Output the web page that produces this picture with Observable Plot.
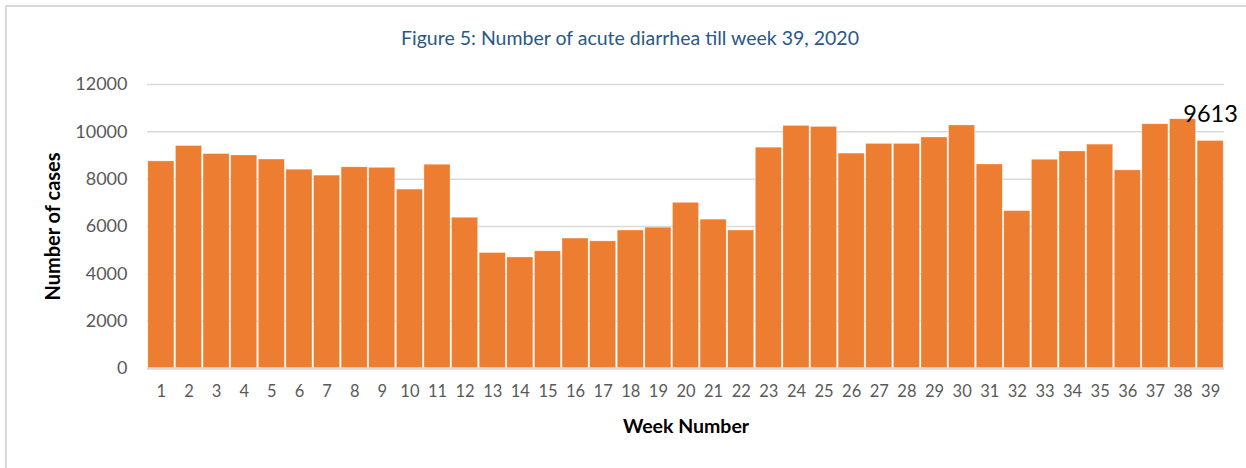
<!DOCTYPE html>
<html>
<head>
<meta charset="utf-8">
<script src="https://cdn.jsdelivr.net/npm/d3@7"></script>
<script src="https://cdn.jsdelivr.net/npm/@observablehq/plot@0.6"></script>
<style>
  html, body { margin: 0; padding: 0; background: #fff; }
  #wrap { position: relative; width: 1246px; height: 468px; overflow: hidden; }
  #frame { position: absolute; left: 5px; top: 5px; right: -5px; bottom: -5px;
           border-top: 2px solid #d9d9d9; border-left: 2px solid #d9d9d9; pointer-events: none; }
  #chart { position: absolute; left: 0; top: 0; }
</style>
</head>
<body>
<div id="wrap"><div id="chart"></div><div id="frame"></div></div>
<script>
const title = "Figure 5: Number of acute diarrhea till week 39, 2020";
const xLabel = "Week Number";
const yLabel = "Number of cases";
const weeks = [1, 2, 3, 4, 5, 6, 7, 8, 9, 10, 11, 12, 13, 14, 15, 16, 17, 18, 19, 20,
  21, 22, 23, 24, 25, 26, 27, 28, 29, 30, 31, 32, 33, 34, 35, 36, 37, 38, 39];
const cases = [8750, 9400, 9060, 9000, 8830, 8400, 8150, 8500, 8480, 7560,
  8610, 6370, 4880, 4690, 4950, 5490, 5370, 5830, 5950, 7000,
  6290, 5830, 9330, 10250, 10210, 9080, 9490, 9490, 9760, 10270,
  8620, 6650, 8820, 9170, 9460, 8370, 10320, 10530, 9613];
const yTicks = [0, 2000, 4000, 6000, 8000, 10000, 12000];
const labelWeek = [39];
const labelValue = [9613];

const data = weeks.map((w, i) => ({week: w, cases: cases[i]}));
const labels = labelWeek.map((w, i) => ({week: w, cases: labelValue[i]}));

const chart = Plot.plot({
  width: 1246,
  height: 468,
  marginLeft: 147,
  marginRight: 22,
  marginTop: 84,
  marginBottom: 100,
  style: {fontFamily: "Lato, sans-serif", background: "transparent"},
  x: {type: "band", domain: weeks, paddingInner: 0.055, paddingOuter: 0.03, round: false, label: null},
  y: {domain: [0, 12000], label: null},
  marks: [
    Plot.gridY(yTicks, {stroke: "#d9d9d9", strokeOpacity: 1, strokeWidth: 1.5}),
    Plot.barY(data, {x: "week", y: "cases", fill: "#ED7D31", stroke: "#fff", strokeOpacity: 0.5, strokeWidth: 0.6}),
    Plot.ruleY([0], {stroke: "#d9d9d9", strokeWidth: 2.5}),
    Plot.axisY({ticks: yTicks, tickSize: 0, tickPadding: 20, fontSize: 18, fill: "#595959", tickFormat: d3.format("d"), label: null}),
    Plot.axisX({tickSize: 0, tickPadding: 17, fontSize: 16.5, fill: "#595959", label: null}),
    Plot.text(labels, {x: "week", y: "cases", text: d => String(d.cases), fontSize: 23.5, fill: "#000", lineAnchor: "bottom", dy: -19}),
    Plot.text([title], {frameAnchor: "top", dx: -56, dy: -46, lineAnchor: "middle", textAnchor: "middle", fontSize: 19.5, fill: "#2a5886"}),
    Plot.text([xLabel], {frameAnchor: "bottom", dy: 58, lineAnchor: "middle", textAnchor: "middle", fontSize: 19.5, fontWeight: "bold", fill: "#000"}),
    Plot.text([yLabel], {frameAnchor: "left", dx: -94, rotate: -90, lineAnchor: "middle", textAnchor: "middle", fontSize: 20, fontWeight: "bold", fill: "#000"})
  ]
});
document.getElementById("chart").appendChild(chart);
</script>
</body>
</html>
